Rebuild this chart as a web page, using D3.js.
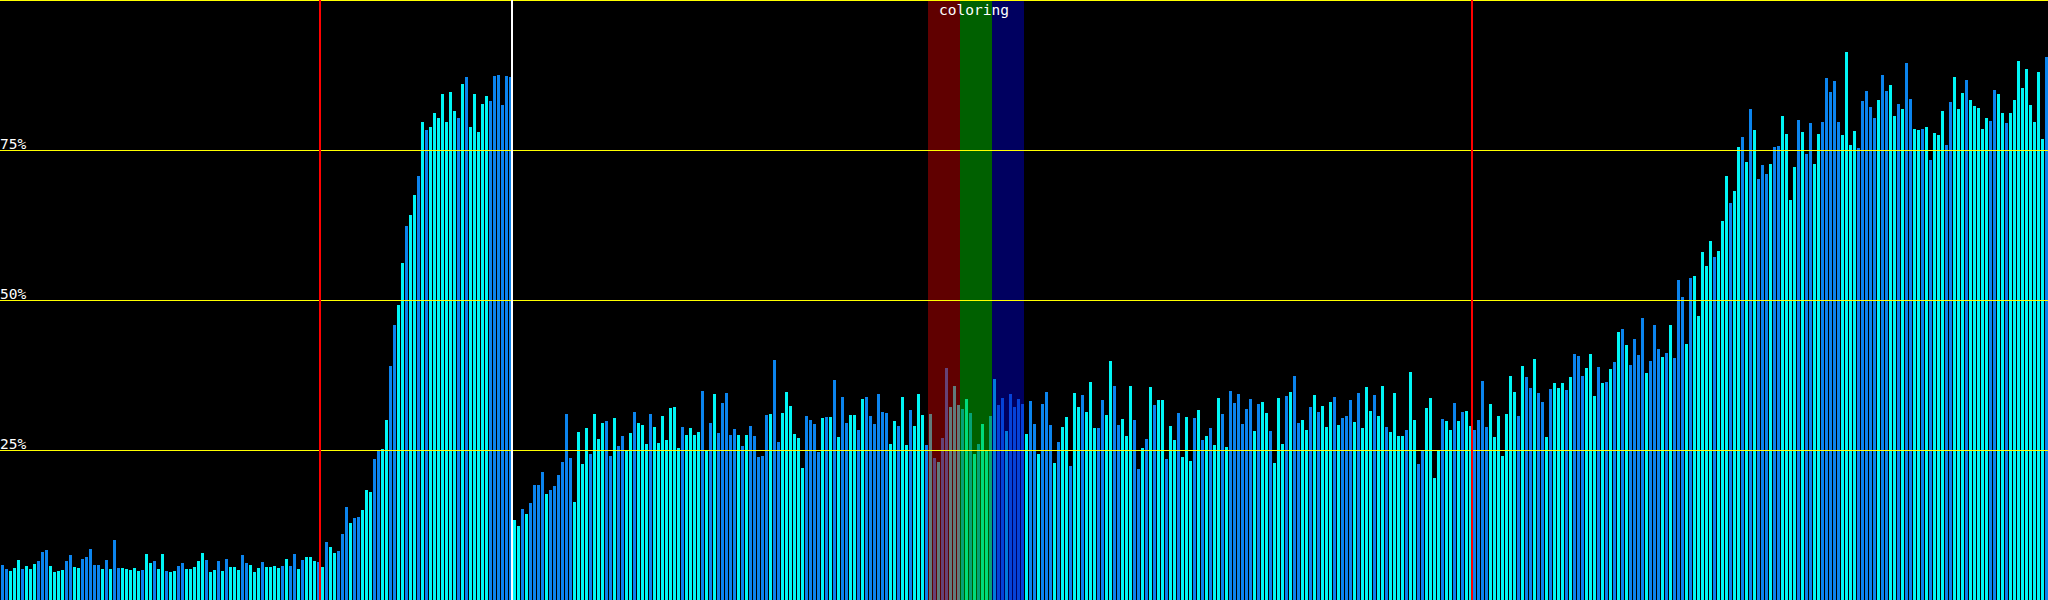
<!DOCTYPE html>
<html>
<head>
<meta charset="utf-8">
<script src="https://cdn.jsdelivr.net/npm/d3@7"></script>
<style>
  html, body { margin: 0; padding: 0; background: #000; overflow: hidden; }
  svg { display: block; }
  text { font-family: "DejaVu Sans Mono", "Liberation Mono", monospace; }
</style>
</head>
<body>
<svg id="chart" width="2048" height="600"></svg>
<script>
// ---- data (percent values, one per bar) ----
const values = [
  5.8,5.2,4.8,5.3,6.7,5.2,5.7,5.2,6.0,6.5, 8.0,8.3,5.7,4.7,4.8,5.0,6.5,7.5,5.5,5.3,
  6.8,7.2,8.5,5.8,5.8,5.2,6.7,5.2,10.0,5.3, 5.3,5.2,5.0,5.3,4.8,5.0,7.7,6.2,6.5,5.2,
  7.7,4.8,4.7,4.8,5.7,6.2,5.2,5.2,5.5,6.5, 7.8,6.7,4.7,5.0,6.5,4.8,6.8,5.5,5.5,5.0,
  7.5,6.2,5.8,4.7,5.3,6.3,5.5,5.5,5.7,5.3, 5.7,6.8,5.7,7.7,5.2,6.7,7.2,7.2,6.5,6.3,
  5.5,9.7,8.8,7.8,8.2,11.0,15.5,12.8,13.7,13.8, 15.0,18.3,18.0,23.5,25.0,25.2,30.0,39.0,45.8,49.2,
  56.2,62.3,64.2,67.5,70.7,79.7,78.3,78.8,81.2,80.3, 84.3,79.7,84.7,81.5,80.3,86.0,87.2,78.8,84.3,78.0,
  82.7,84.0,83.2,87.3,87.5,82.5,87.3,87.2,13.3,12.3, 15.2,14.3,16.2,19.2,19.2,21.3,17.7,18.3,19.0,20.8,
  23.0,31.0,23.7,16.3,28.0,22.7,28.7,24.3,31.0,26.8, 29.5,29.8,24.0,30.3,25.7,27.3,25.0,27.8,31.3,29.5,
  29.2,26.0,31.0,28.8,26.2,30.7,26.7,32.0,32.2,25.3, 28.8,27.5,28.7,27.5,28.0,34.8,24.8,29.5,34.3,27.8,
  32.8,34.5,27.5,28.5,27.5,25.7,27.5,29.0,27.3,23.8, 24.0,30.8,31.0,40.0,26.3,31.2,34.7,32.3,27.7,27.0,
  22.0,30.7,30.0,29.3,24.7,30.3,30.5,30.5,36.7,27.2, 33.8,29.5,30.8,30.8,28.3,33.5,33.8,30.7,29.3,34.3,
  31.3,31.2,26.0,29.8,29.0,33.8,25.8,31.7,29.0,34.3, 30.8,25.8,31.0,23.7,23.0,27.0,38.7,32.2,35.7,32.5,
  31.8,33.5,31.2,24.3,26.0,29.3,25.0,30.7,36.8,32.5, 33.7,28.2,34.3,32.2,33.5,32.7,27.7,33.2,29.3,24.3,
  32.7,34.7,29.2,22.8,26.3,28.8,30.5,22.3,34.5,32.2, 34.2,31.3,36.3,28.7,28.7,33.3,30.8,39.8,35.7,29.2,
  30.2,27.3,35.7,30.0,21.8,25.3,26.8,35.5,32.5,33.3, 33.3,23.5,29.0,26.7,31.2,23.8,30.5,23.2,30.3,31.7,
  26.7,27.3,28.7,25.8,33.7,31.0,25.5,34.8,32.8,34.3, 29.3,31.8,33.5,28.2,32.7,33.0,31.2,28.2,22.8,33.7,
  26.0,34.0,34.7,37.3,29.5,30.0,28.3,32.2,34.2,31.3, 32.3,28.8,33.0,33.8,29.2,30.3,30.7,33.3,29.7,34.5,
  28.7,35.5,31.5,34.2,30.7,35.7,28.8,28.0,34.5,27.3, 27.3,28.3,38.0,30.0,22.7,24.8,32.0,33.7,20.3,24.8,
  30.2,29.8,28.3,32.8,29.8,31.3,31.5,29.0,28.3,30.0, 36.5,28.8,32.7,27.2,30.7,24.0,31.0,37.3,34.7,30.7,
  39.0,37.2,35.3,40.2,34.5,33.0,27.2,35.2,36.2,35.3, 36.2,35.0,37.2,41.0,40.7,37.3,38.7,41.0,34.0,38.8,
  36.2,36.3,38.5,39.7,44.7,45.2,42.5,39.2,43.5,40.8, 47.0,37.8,39.8,45.8,41.8,40.5,41.2,45.8,40.3,53.3,
  50.5,42.7,53.7,54.0,47.3,58.0,55.7,59.8,57.2,58.2, 63.2,70.7,66.2,68.2,75.5,77.2,73.0,81.8,78.3,70.2,
  72.5,71.0,72.7,75.5,75.7,80.7,77.7,66.7,72.2,80.0, 78.0,74.3,79.5,72.7,77.7,79.7,87.0,84.7,86.5,79.7,
  77.5,91.3,75.8,78.2,75.3,83.2,84.8,82.2,80.3,83.3, 87.5,84.8,85.8,80.7,82.7,81.8,89.5,83.5,78.5,78.3,
  78.5,78.8,73.3,77.8,77.5,81.5,75.8,83.0,87.2,81.8, 84.5,86.7,83.3,82.3,82.0,78.5,80.3,79.8,85.0,84.3,
  81.2,79.5,81.2,83.3,89.8,85.3,88.5,82.5,79.7,88.0, 76.8,90.5
];

// colour group per bar: B = blue, C = cyan
const groups = (
  "BBCCCBCCCB" + "BBCCCCBBCC" + "BBBBBCBCBB" + "CCCCCBCCBC" + "CBCCBBCCCC" +
  "CBCCBCBCCC" + "BBCCCBCCCC" + "BCBBCBCCCB" + "CBCCBBBCBB" + "CCCBBCCBBC" +
  "CBCCBCBCCC" + "CCCCBCBCCC" + "CCBBBBBBCC" + "BCBBBBCBBB" + "BBBCCCCBCC" +
  "CBBCBBCCBC" + "CCBCCCCCCC" + "BCCCCBCBCB" + "BBBBCBCBBB" + "BBCBBCCCCC" +
  "CBBBBCBCBC" + "BBCCBCBBBB" + "BBCCBCCBCC" + "CBCBCBBCCC" + "BCBCBCCBCB" +
  "BCBBBBCBBC" + "BBBCBCCBCC" + "BCCCBBCCBB" + "CCCBBCBCBC" + "CBCCBCCCBC" +
  "BCBCCBCBBB" + "BBBCBCCBCC" + "CBCBBCCBCB" + "CCCBCBBBCB" + "CCCBCCBCCC" +
  "CBCCBBCCCC" + "BCCBCBCCBB" + "BBCCCCCCCB" + "CBBCBBCBCC" + "CBCBBBCCCB" +
  "CBCBCBCBBB" + "BCBBBCBCBB" + "BCBCCCCCBC" + "CCBCCBCBCB" + "BBCBBCCCCB" +
  "CBBCCBBBBB" + "CCCCBBBBBC" + "BBCCBCBBCC" + "BCBCCCBBCC" + "CBCCCCCBBC" +
  "CBCCCCCCCC" + "CB"
).split("");

const groupColors = { B: "#0b84ee", C: "#00f6f6" };

const gridValues = [25, 50, 75, 100];
const gridLabels = ["25%", "50%", "75%", ""];

const redMarkers = [80, 368];     // bar index where the red rule sits
const whiteMarkers = [128];       // bar index where the white rule sits

const bandNames = ["red", "green", "blue"];
const bandStarts = [232, 240, 248];
const bandLength = 8;
const bandFills = ["rgba(192,0,0,0.5)", "rgba(0,192,0,0.5)", "rgba(0,0,192,0.5)"];
const bandTitle = "coloring";

// ---- drawing ----
const W = 2048, H = 600;
const svg = d3.select("#chart");
svg.append("rect").attr("width", W).attr("height", H).attr("fill", "#000");

const x = d3.scaleBand()
  .domain(d3.range(values.length))
  .range([0.5, W + 0.5])
  .paddingInner(0.25)
  .paddingOuter(0.125);
const y = d3.scaleLinear().domain([0, 100]).range([H, 0]);
const step = x.step();
const edge = i => x(i) - (step - x.bandwidth()) + 0; // left gap edge

// bars
svg.append("g").attr("shape-rendering", "crispEdges")
  .selectAll("rect").data(values).join("rect")
  .attr("x", (d, i) => x(i))
  .attr("width", x.bandwidth())
  .attr("y", d => Math.round(y(d)))
  .attr("height", d => H - Math.round(y(d)))
  .attr("fill", (d, i) => groupColors[groups[i]]);

// colour bands (overlay)
svg.append("g").attr("shape-rendering", "crispEdges")
  .selectAll("rect").data(bandStarts).join("rect")
  .attr("x", d => edge(d))
  .attr("width", bandLength * step)
  .attr("y", 0)
  .attr("height", H)
  .attr("fill", (d, i) => bandFills[i]);

// horizontal grid
svg.append("g").attr("shape-rendering", "crispEdges")
  .selectAll("rect").data(gridValues).join("rect")
  .attr("x", 0).attr("width", W)
  .attr("y", d => Math.min(H - 1, Math.round(y(d))))
  .attr("height", 1)
  .attr("fill", "#ffff00");

// vertical rules
const rules = redMarkers.map(i => ({ i, c: "#ff0000" }))
  .concat(whiteMarkers.map(i => ({ i, c: "#ffffff" })));
svg.append("g").attr("shape-rendering", "crispEdges")
  .selectAll("rect").data(rules).join("rect")
  .attr("x", d => edge(d.i) - 1)
  .attr("width", 2)
  .attr("y", 0).attr("height", H)
  .attr("fill", d => d.c);

// grid labels
svg.append("g")
  .selectAll("text").data(gridValues).join("text")
  .attr("x", 0)
  .attr("y", d => Math.round(y(d)) - 1)
  .attr("fill", "#ffffff")
  .style("font-size", "14.5px")
  .text((d, i) => gridLabels[i]);

// band title
const bandMid = (edge(bandStarts[0]) + edge(bandStarts[bandStarts.length - 1]) + bandLength * step) / 2;
svg.append("text")
  .attr("x", bandMid - 2)
  .attr("y", 15)
  .attr("text-anchor", "middle")
  .attr("fill", "#ffffff")
  .style("font-size", "14.5px")
  .text(bandTitle);
</script>
</body>
</html>
